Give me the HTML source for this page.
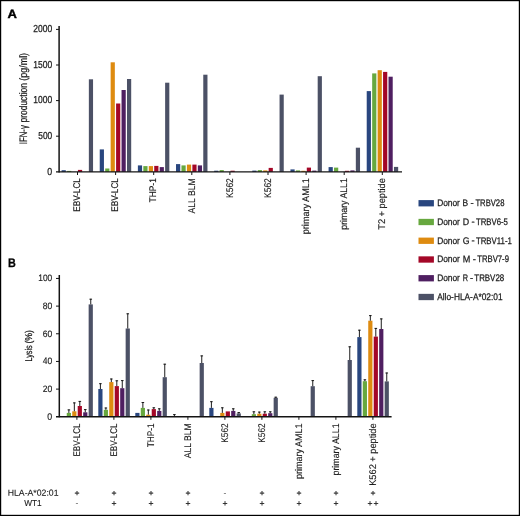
<!DOCTYPE html>
<html lang="en">
<head>
<meta charset="utf-8">
<title>Figure</title>
<style>
html,body{margin:0;padding:0;background:#fff;}
body{width:520px;height:516px;overflow:hidden;font-family:"Liberation Sans",sans-serif;}
svg{display:block;text-rendering:geometricPrecision;}
</style>
</head>
<body>
<svg width="520" height="516" viewBox="0 0 520 516">
<rect x="0" y="0" width="520" height="516" fill="#fff"/>
<g id="chartA">
<g class="bars">
<rect x="61.6" y="170.2" width="4.2" height="1.7" fill="#29467f"/>
<rect x="67.05" y="170.9" width="4.2" height="1" fill="#67a83f"/>
<rect x="77.95" y="169.9" width="4.2" height="2" fill="#a40727"/>
<rect x="88.85" y="79.3" width="4.2" height="92.6" fill="#4c5166"/>
<rect x="99.74" y="149.4" width="4.2" height="22.5" fill="#29467f"/>
<rect x="105.19" y="168.5" width="4.2" height="3.4" fill="#67a83f"/>
<rect x="110.64" y="62.3" width="4.2" height="109.6" fill="#de8b10"/>
<rect x="116.09" y="103.5" width="4.2" height="68.4" fill="#a40727"/>
<rect x="121.54" y="90" width="4.2" height="81.9" fill="#4f1f61"/>
<rect x="126.99" y="79" width="4.2" height="92.9" fill="#4c5166"/>
<rect x="137.88" y="165.4" width="4.2" height="6.5" fill="#29467f"/>
<rect x="143.33" y="166.1" width="4.2" height="5.8" fill="#67a83f"/>
<rect x="148.78" y="166.1" width="4.2" height="5.8" fill="#de8b10"/>
<rect x="154.23" y="165.9" width="4.2" height="6" fill="#a40727"/>
<rect x="159.68" y="167.1" width="4.2" height="4.8" fill="#4f1f61"/>
<rect x="165.13" y="82.7" width="4.2" height="89.2" fill="#4c5166"/>
<rect x="176.02" y="164.1" width="4.2" height="7.8" fill="#29467f"/>
<rect x="181.47" y="165.4" width="4.2" height="6.5" fill="#67a83f"/>
<rect x="186.92" y="164.6" width="4.2" height="7.3" fill="#de8b10"/>
<rect x="192.37" y="164.6" width="4.2" height="7.3" fill="#a40727"/>
<rect x="197.82" y="165.4" width="4.2" height="6.5" fill="#4f1f61"/>
<rect x="203.27" y="74.7" width="4.2" height="97.2" fill="#4c5166"/>
<rect x="214.16" y="170.7" width="4.2" height="1.2" fill="#29467f"/>
<rect x="219.61" y="170.1" width="4.2" height="1.8" fill="#67a83f"/>
<rect x="230.51" y="170.7" width="4.2" height="1.2" fill="#a40727"/>
<rect x="252.3" y="170.6" width="4.2" height="1.3" fill="#29467f"/>
<rect x="257.75" y="170.1" width="4.2" height="1.8" fill="#67a83f"/>
<rect x="263.2" y="170.4" width="4.2" height="1.5" fill="#de8b10"/>
<rect x="268.65" y="167.9" width="4.2" height="4" fill="#a40727"/>
<rect x="279.55" y="94.6" width="4.2" height="77.3" fill="#4c5166"/>
<rect x="290.44" y="169.4" width="4.2" height="2.5" fill="#29467f"/>
<rect x="295.89" y="170.4" width="4.2" height="1.5" fill="#67a83f"/>
<rect x="301.34" y="170.8" width="4.2" height="1.1" fill="#de8b10"/>
<rect x="306.79" y="167.6" width="4.2" height="4.3" fill="#a40727"/>
<rect x="312.24" y="170.6" width="4.2" height="1.3" fill="#4f1f61"/>
<rect x="317.69" y="76.2" width="4.2" height="95.7" fill="#4c5166"/>
<rect x="328.58" y="167.1" width="4.2" height="4.8" fill="#29467f"/>
<rect x="334.03" y="167.6" width="4.2" height="4.3" fill="#67a83f"/>
<rect x="344.93" y="170.8" width="4.2" height="1.1" fill="#a40727"/>
<rect x="350.38" y="170.4" width="4.2" height="1.5" fill="#4f1f61"/>
<rect x="355.83" y="147.7" width="4.2" height="24.2" fill="#4c5166"/>
<rect x="366.72" y="91.1" width="4.2" height="80.8" fill="#29467f"/>
<rect x="372.17" y="73.4" width="4.2" height="98.5" fill="#67a83f"/>
<rect x="377.62" y="70.2" width="4.2" height="101.7" fill="#de8b10"/>
<rect x="383.07" y="71.9" width="4.2" height="100" fill="#a40727"/>
<rect x="388.52" y="76.7" width="4.2" height="95.2" fill="#4f1f61"/>
<rect x="393.97" y="166.9" width="4.2" height="5" fill="#4c5166"/>
</g>
<g stroke="#141414" fill="none">
<path d="M59.1 26 V172.6" stroke-width="1.5"/>
<path d="M56 171.9 H402" stroke-width="1.4"/>
<path d="M56 136.2 H59.1" stroke-width="1"/>
<path d="M56 100.6 H59.1" stroke-width="1"/>
<path d="M56 65 H59.1" stroke-width="1"/>
<path d="M56 29.4 H59.1" stroke-width="1"/>
<path d="M77.5 171.9 V175" stroke-width="1"/>
<path d="M115.6 171.9 V175" stroke-width="1"/>
<path d="M153.7 171.9 V175" stroke-width="1"/>
<path d="M191.8 171.9 V175" stroke-width="1"/>
<path d="M229.9 171.9 V175" stroke-width="1"/>
<path d="M268 171.9 V175" stroke-width="1"/>
<path d="M306.1 171.9 V175" stroke-width="1"/>
<path d="M344.2 171.9 V175" stroke-width="1"/>
<path d="M382.3 171.9 V175" stroke-width="1"/>
</g>
<g font-family="'Liberation Sans', sans-serif" fill="#1a1a1a">
<text font-size="10.1" text-anchor="end" textLength="4.9" lengthAdjust="spacingAndGlyphs" stroke="#1a1a1a" stroke-width="0.25" transform="translate(52.2 174.65) rotate(0.03)">0</text>
<text font-size="10.1" text-anchor="end" textLength="13.9" lengthAdjust="spacingAndGlyphs" stroke="#1a1a1a" stroke-width="0.25" transform="translate(52.2 139.05) rotate(0.03)">500</text>
<text font-size="10.1" text-anchor="end" textLength="18.9" lengthAdjust="spacingAndGlyphs" stroke="#1a1a1a" stroke-width="0.25" transform="translate(52.2 103.45) rotate(0.03)">1000</text>
<text font-size="10.1" text-anchor="end" textLength="18.9" lengthAdjust="spacingAndGlyphs" stroke="#1a1a1a" stroke-width="0.25" transform="translate(52.2 67.85) rotate(0.03)">1500</text>
<text font-size="10.1" text-anchor="end" textLength="18.9" lengthAdjust="spacingAndGlyphs" stroke="#1a1a1a" stroke-width="0.25" transform="translate(52.2 32.25) rotate(0.03)">2000</text>
<text font-size="10.9" textLength="19.2" lengthAdjust="spacingAndGlyphs" stroke="#1a1a1a" stroke-width="0.2" transform="translate(27.3 144.3) rotate(-89.97)">IFN-γ</text>
<text font-size="10.9" textLength="39.3" lengthAdjust="spacingAndGlyphs" stroke="#1a1a1a" stroke-width="0.2" transform="translate(27.3 122.4) rotate(-89.97)">production</text>
<text font-size="10.9" textLength="27.8" lengthAdjust="spacingAndGlyphs" stroke="#1a1a1a" stroke-width="0.2" transform="translate(27.3 80.7) rotate(-89.97)">(pg/ml)</text>
<text font-size="9.7" text-anchor="end" textLength="33.5" lengthAdjust="spacingAndGlyphs" stroke="#1a1a1a" stroke-width="0.15" transform="translate(80.3 178.2) rotate(-89.97)">EBV-LCL</text>
<text font-size="9.7" text-anchor="end" textLength="33.5" lengthAdjust="spacingAndGlyphs" stroke="#1a1a1a" stroke-width="0.15" transform="translate(118.4 178.2) rotate(-89.97)">EBV-LCL</text>
<text font-size="9.7" text-anchor="end" textLength="24.2" lengthAdjust="spacingAndGlyphs" stroke="#1a1a1a" stroke-width="0.15" transform="translate(156.5 178.2) rotate(-89.97)">THP-1</text>
<text font-size="9.7" text-anchor="end" textLength="35.3" lengthAdjust="spacingAndGlyphs" stroke="#1a1a1a" stroke-width="0.15" transform="translate(194.6 178.2) rotate(-89.97)">ALL BLM</text>
<text font-size="9.7" text-anchor="end" textLength="19.7" lengthAdjust="spacingAndGlyphs" stroke="#1a1a1a" stroke-width="0.15" transform="translate(232.7 178.2) rotate(-89.97)">K562</text>
<text font-size="9.7" text-anchor="end" textLength="19.7" lengthAdjust="spacingAndGlyphs" stroke="#1a1a1a" stroke-width="0.15" transform="translate(270.8 178.2) rotate(-89.97)">K562</text>
<text font-size="9.7" text-anchor="end" textLength="56" lengthAdjust="spacingAndGlyphs" stroke="#1a1a1a" stroke-width="0.15" transform="translate(308.9 178.2) rotate(-89.97)">primary AML1</text>
<text font-size="9.7" text-anchor="end" textLength="51.5" lengthAdjust="spacingAndGlyphs" stroke="#1a1a1a" stroke-width="0.15" transform="translate(347 178.2) rotate(-89.97)">primary ALL1</text>
<text font-size="9.7" text-anchor="end" textLength="51.5" lengthAdjust="spacingAndGlyphs" stroke="#1a1a1a" stroke-width="0.15" transform="translate(385.1 178.2) rotate(-89.97)">T2 + peptide</text>
</g>
</g>
<g font-family="'Liberation Sans', sans-serif" fill="#000">
<text font-size="12" textLength="9.4" lengthAdjust="spacingAndGlyphs" font-weight="bold" stroke="#000" stroke-width="0.4" fill="#000" transform="translate(7.6 18.05) rotate(0.03)">A</text>
<text font-size="12.3" textLength="7.8" lengthAdjust="spacingAndGlyphs" font-weight="bold" stroke="#000" stroke-width="0.3" fill="#000" transform="translate(8.1 267.05) rotate(0.03)">B</text>
</g>
<g id="legend" font-family="'Liberation Sans', sans-serif" fill="#1a1a1a">
<rect x="418.5" y="200.1" width="15.4" height="6.3" fill="#29467f"/>
<text font-size="9.5" textLength="22.7" lengthAdjust="spacingAndGlyphs" stroke="#1a1a1a" stroke-width="0.25" transform="translate(437.2 206.1) rotate(0.03)">Donor</text>
<text font-size="9.5" textLength="5.6" lengthAdjust="spacingAndGlyphs" stroke="#1a1a1a" stroke-width="0.25" transform="translate(462.4 206.1) rotate(0.03)">B</text>
<text font-size="9.5" text-anchor="middle" stroke="#1a1a1a" stroke-width="0.25" transform="translate(472.15 206.1) rotate(0.03)">-</text>
<text font-size="9.5" textLength="29" lengthAdjust="spacingAndGlyphs" stroke="#1a1a1a" stroke-width="0.25" transform="translate(475.4 206.1) rotate(0.03)">TRBV28</text>
<rect x="418.5" y="218.85" width="15.4" height="6.3" fill="#67a83f"/>
<text font-size="9.5" textLength="22.7" lengthAdjust="spacingAndGlyphs" stroke="#1a1a1a" stroke-width="0.25" transform="translate(437.2 224.8) rotate(0.03)">Donor</text>
<text font-size="9.5" textLength="6.4" lengthAdjust="spacingAndGlyphs" stroke="#1a1a1a" stroke-width="0.25" transform="translate(462.7 224.8) rotate(0.03)">D</text>
<text font-size="9.5" text-anchor="middle" stroke="#1a1a1a" stroke-width="0.25" transform="translate(473.2 224.8) rotate(0.03)">-</text>
<text font-size="9.5" textLength="32" lengthAdjust="spacingAndGlyphs" stroke="#1a1a1a" stroke-width="0.25" transform="translate(475.9 224.8) rotate(0.03)">TRBV6-5</text>
<rect x="418.5" y="237.6" width="15.4" height="6.3" fill="#de8b10"/>
<text font-size="9.5" textLength="22.7" lengthAdjust="spacingAndGlyphs" stroke="#1a1a1a" stroke-width="0.25" transform="translate(437.2 243.5) rotate(0.03)">Donor</text>
<text font-size="9.5" textLength="6.8" lengthAdjust="spacingAndGlyphs" stroke="#1a1a1a" stroke-width="0.25" transform="translate(462.7 243.5) rotate(0.03)">G</text>
<text font-size="9.5" text-anchor="middle" stroke="#1a1a1a" stroke-width="0.25" transform="translate(473.2 243.5) rotate(0.03)">-</text>
<text font-size="9.5" textLength="36" lengthAdjust="spacingAndGlyphs" stroke="#1a1a1a" stroke-width="0.25" transform="translate(475.9 243.5) rotate(0.03)">TRBV11-1</text>
<rect x="418.5" y="256.35" width="15.4" height="6.3" fill="#a40727"/>
<text font-size="9.5" textLength="22.7" lengthAdjust="spacingAndGlyphs" stroke="#1a1a1a" stroke-width="0.25" transform="translate(437.2 262.2) rotate(0.03)">Donor</text>
<text font-size="9.5" textLength="7.6" lengthAdjust="spacingAndGlyphs" stroke="#1a1a1a" stroke-width="0.25" transform="translate(462.7 262.2) rotate(0.03)">M</text>
<text font-size="9.5" text-anchor="middle" stroke="#1a1a1a" stroke-width="0.25" transform="translate(474.35 262.2) rotate(0.03)">-</text>
<text font-size="9.5" textLength="31.8" lengthAdjust="spacingAndGlyphs" stroke="#1a1a1a" stroke-width="0.25" transform="translate(477.2 262.2) rotate(0.03)">TRBV7-9</text>
<rect x="418.5" y="275.1" width="15.4" height="6.3" fill="#4f1f61"/>
<text font-size="9.5" textLength="22.7" lengthAdjust="spacingAndGlyphs" stroke="#1a1a1a" stroke-width="0.25" transform="translate(437.2 280.9) rotate(0.03)">Donor</text>
<text font-size="9.5" textLength="5.3" lengthAdjust="spacingAndGlyphs" stroke="#1a1a1a" stroke-width="0.25" transform="translate(462.7 280.9) rotate(0.03)">R</text>
<text font-size="9.5" text-anchor="middle" stroke="#1a1a1a" stroke-width="0.25" transform="translate(471.6 280.9) rotate(0.03)">-</text>
<text font-size="9.5" textLength="29.9" lengthAdjust="spacingAndGlyphs" stroke="#1a1a1a" stroke-width="0.25" transform="translate(474.3 280.9) rotate(0.03)">TRBV28</text>
<rect x="418.5" y="293.85" width="15.4" height="6.3" fill="#4c5166"/>
<text font-size="9.5" textLength="65.4" lengthAdjust="spacingAndGlyphs" stroke="#1a1a1a" stroke-width="0.25" transform="translate(437.2 299.6) rotate(0.03)">Allo-HLA-A*02:01</text>
</g>
<g id="chartB">
<g class="bars">
<rect x="66.77" y="412.9" width="4.2" height="3.7" fill="#67a83f"/>
<rect x="72.24" y="411.3" width="4.2" height="5.3" fill="#de8b10"/>
<rect x="77.71" y="406" width="4.2" height="10.6" fill="#a40727"/>
<rect x="83.18" y="412.3" width="4.2" height="4.3" fill="#4f1f61"/>
<rect x="88.65" y="304.4" width="4.2" height="112.2" fill="#4c5166"/>
<rect x="98.3" y="389" width="4.2" height="27.6" fill="#29467f"/>
<rect x="103.77" y="409.8" width="4.2" height="6.8" fill="#67a83f"/>
<rect x="109.24" y="382.1" width="4.2" height="34.5" fill="#de8b10"/>
<rect x="114.71" y="386.1" width="4.2" height="30.5" fill="#a40727"/>
<rect x="120.18" y="388.2" width="4.2" height="28.4" fill="#4f1f61"/>
<rect x="125.65" y="328.5" width="4.2" height="88.1" fill="#4c5166"/>
<rect x="135.3" y="412.9" width="4.2" height="3.7" fill="#29467f"/>
<rect x="140.77" y="407.9" width="4.2" height="8.7" fill="#67a83f"/>
<rect x="146.24" y="414.7" width="4.2" height="1.9" fill="#de8b10"/>
<rect x="151.71" y="409.1" width="4.2" height="7.5" fill="#a40727"/>
<rect x="157.18" y="410.9" width="4.2" height="5.7" fill="#4f1f61"/>
<rect x="162.65" y="377.2" width="4.2" height="39.4" fill="#4c5166"/>
<rect x="199.65" y="363" width="4.2" height="53.6" fill="#4c5166"/>
<rect x="209.3" y="407.9" width="4.2" height="8.7" fill="#29467f"/>
<rect x="220.24" y="412.9" width="4.2" height="3.7" fill="#de8b10"/>
<rect x="225.71" y="411.4" width="4.2" height="5.2" fill="#a40727"/>
<rect x="231.18" y="410.9" width="4.2" height="5.7" fill="#4f1f61"/>
<rect x="236.65" y="413.4" width="4.2" height="3.2" fill="#4c5166"/>
<rect x="251.77" y="414.2" width="4.2" height="2.4" fill="#67a83f"/>
<rect x="257.24" y="413.7" width="4.2" height="2.9" fill="#de8b10"/>
<rect x="262.71" y="413.7" width="4.2" height="2.9" fill="#a40727"/>
<rect x="268.18" y="413.2" width="4.2" height="3.4" fill="#4f1f61"/>
<rect x="273.65" y="397.8" width="4.2" height="18.8" fill="#4c5166"/>
<rect x="310.65" y="386.2" width="4.2" height="30.4" fill="#4c5166"/>
<rect x="347.65" y="360" width="4.2" height="56.6" fill="#4c5166"/>
<rect x="357.3" y="337.1" width="4.2" height="79.5" fill="#29467f"/>
<rect x="362.77" y="381.2" width="4.2" height="35.4" fill="#67a83f"/>
<rect x="368.24" y="320.7" width="4.2" height="95.9" fill="#de8b10"/>
<rect x="373.71" y="336.6" width="4.2" height="80" fill="#a40727"/>
<rect x="379.18" y="329" width="4.2" height="87.6" fill="#4f1f61"/>
<rect x="384.65" y="381.4" width="4.2" height="35.2" fill="#4c5166"/>
</g>
<path d="M68.87 412.9 V409.5 M67.57 409.9 H70.17 M74.34 411.3 V402.5 M73.04 402.9 H75.64 M79.81 406 V401 M78.51 401.4 H81.11 M85.28 412.3 V409.2 M83.98 409.6 H86.58 M90.75 304.4 V298.8 M89.45 299.2 H92.05 M100.4 389 V383.3 M99.1 383.7 H101.7 M105.87 409.8 V407.6 M104.57 408 H107.17 M111.34 382.1 V378.6 M110.04 379 H112.64 M116.81 386.1 V380.4 M115.51 380.8 H118.11 M122.28 388.2 V380.2 M120.98 380.6 H123.58 M127.75 328.5 V313.4 M126.45 313.8 H129.05 M142.87 407.9 V402.1 M141.57 402.5 H144.17 M148.34 414.7 V409.6 M147.04 410 H149.64 M153.81 409.1 V407.4 M152.51 407.8 H155.11 M159.28 410.9 V408.4 M157.98 408.8 H160.58 M164.75 377.2 V363.8 M163.45 364.2 H166.05 M174.4 416.6 V414.2 M173.1 414.6 H175.7 M201.75 363 V355.5 M200.45 355.9 H203.05 M211.4 407.9 V401.3 M210.1 401.7 H212.7 M222.34 412.9 V407.4 M221.04 407.8 H223.64 M233.28 410.9 V408.4 M231.98 408.8 H234.58 M238.75 413.4 V412.2 M237.45 412.6 H240.05 M253.87 414.2 V411.4 M252.57 411.8 H255.17 M259.34 413.7 V411.7 M258.04 412.1 H260.64 M264.81 413.7 V411.4 M263.51 411.8 H266.11 M270.28 413.2 V411.4 M268.98 411.8 H271.58 M275.75 397.8 V396.8 M274.45 397.2 H277.05 M312.75 386.2 V380.2 M311.45 380.6 H314.05 M349.75 360 V346.4 M348.45 346.8 H351.05 M359.4 337.1 V329.8 M358.1 330.2 H360.7 M364.87 381.2 V379.4 M363.57 379.8 H366.17 M370.34 320.7 V315.2 M369.04 315.6 H371.64 M375.81 336.6 V328 M374.51 328.4 H377.11 M381.28 329 V318.5 M379.98 318.9 H382.58 M386.75 381.4 V372.6 M385.45 373 H388.05" stroke="#111" stroke-width="0.95" fill="none"/>
<g stroke="#141414" fill="none">
<path d="M59.3 275 V417.3" stroke-width="1.5"/>
<path d="M56 416.75 H391.6" stroke-width="1.4"/>
<path d="M56 389.11 H59.3" stroke-width="1"/>
<path d="M56 361.45 H59.3" stroke-width="1"/>
<path d="M56 333.78 H59.3" stroke-width="1"/>
<path d="M56 306.12 H59.3" stroke-width="1"/>
<path d="M56 278.45 H59.3" stroke-width="1"/>
<path d="M76.9 416.6 V419.8" stroke-width="1"/>
<path d="M113.9 416.6 V419.8" stroke-width="1"/>
<path d="M150.9 416.6 V419.8" stroke-width="1"/>
<path d="M187.9 416.6 V419.8" stroke-width="1"/>
<path d="M224.9 416.6 V419.8" stroke-width="1"/>
<path d="M261.9 416.6 V419.8" stroke-width="1"/>
<path d="M298.9 416.6 V419.8" stroke-width="1"/>
<path d="M335.9 416.6 V419.8" stroke-width="1"/>
<path d="M372.9 416.6 V419.8" stroke-width="1"/>
</g>
<g font-family="'Liberation Sans', sans-serif" fill="#1a1a1a">
<text font-size="9.3" text-anchor="end" textLength="4.9" lengthAdjust="spacingAndGlyphs" stroke="#1a1a1a" stroke-width="0.15" transform="translate(52.2 419.78) rotate(0.03)">0</text>
<text font-size="9.3" text-anchor="end" textLength="9.5" lengthAdjust="spacingAndGlyphs" stroke="#1a1a1a" stroke-width="0.15" transform="translate(52.2 392.11) rotate(0.03)">20</text>
<text font-size="9.3" text-anchor="end" textLength="9.5" lengthAdjust="spacingAndGlyphs" stroke="#1a1a1a" stroke-width="0.15" transform="translate(52.2 364.45) rotate(0.03)">40</text>
<text font-size="9.3" text-anchor="end" textLength="9.5" lengthAdjust="spacingAndGlyphs" stroke="#1a1a1a" stroke-width="0.15" transform="translate(52.2 336.78) rotate(0.03)">60</text>
<text font-size="9.3" text-anchor="end" textLength="9.5" lengthAdjust="spacingAndGlyphs" stroke="#1a1a1a" stroke-width="0.15" transform="translate(52.2 309.12) rotate(0.03)">80</text>
<text font-size="9.3" text-anchor="end" textLength="13.9" lengthAdjust="spacingAndGlyphs" stroke="#1a1a1a" stroke-width="0.15" transform="translate(52.2 281.45) rotate(0.03)">100</text>
<text font-size="9.8" textLength="16.3" lengthAdjust="spacingAndGlyphs" stroke="#1a1a1a" stroke-width="0.25" transform="translate(32 361.6) rotate(-89.97)">Lysis</text>
<text font-size="9.8" textLength="13.6" lengthAdjust="spacingAndGlyphs" stroke="#1a1a1a" stroke-width="0.25" transform="translate(32 343.6) rotate(-89.97)">(%)</text>
<text font-size="9.7" text-anchor="end" textLength="33.1" lengthAdjust="spacingAndGlyphs" stroke="#1a1a1a" stroke-width="0.12" transform="translate(80 423.4) rotate(-89.97)">EBV-LCL</text>
<text font-size="9.7" text-anchor="end" textLength="33.1" lengthAdjust="spacingAndGlyphs" stroke="#1a1a1a" stroke-width="0.12" transform="translate(117 423.4) rotate(-89.97)">EBV-LCL</text>
<text font-size="9.7" text-anchor="end" textLength="23.8" lengthAdjust="spacingAndGlyphs" stroke="#1a1a1a" stroke-width="0.12" transform="translate(154 423.4) rotate(-89.97)">THP-1</text>
<text font-size="9.7" text-anchor="end" textLength="34.9" lengthAdjust="spacingAndGlyphs" stroke="#1a1a1a" stroke-width="0.12" transform="translate(191 423.4) rotate(-89.97)">ALL BLM</text>
<text font-size="9.7" text-anchor="end" textLength="19.3" lengthAdjust="spacingAndGlyphs" stroke="#1a1a1a" stroke-width="0.12" transform="translate(228 423.4) rotate(-89.97)">K562</text>
<text font-size="9.7" text-anchor="end" textLength="19.3" lengthAdjust="spacingAndGlyphs" stroke="#1a1a1a" stroke-width="0.12" transform="translate(265 423.4) rotate(-89.97)">K562</text>
<text font-size="9.7" text-anchor="end" textLength="55.6" lengthAdjust="spacingAndGlyphs" stroke="#1a1a1a" stroke-width="0.12" transform="translate(302 423.4) rotate(-89.97)">primary AML1</text>
<text font-size="9.7" text-anchor="end" textLength="52.1" lengthAdjust="spacingAndGlyphs" stroke="#1a1a1a" stroke-width="0.12" transform="translate(339 423.4) rotate(-89.97)">primary ALL1</text>
<text font-size="9.7" text-anchor="end" textLength="62.4" lengthAdjust="spacingAndGlyphs" stroke="#1a1a1a" stroke-width="0.12" transform="translate(376 423.4) rotate(-89.97)">K562 + peptide</text>
<text font-size="8.8" text-anchor="middle" textLength="50.8" lengthAdjust="spacingAndGlyphs" stroke="#1a1a1a" stroke-width="0.12" transform="translate(33.1 495.8) rotate(0.03)">HLA-A*02:01</text>
<text font-size="8.8" text-anchor="middle" textLength="17.5" lengthAdjust="spacingAndGlyphs" stroke="#1a1a1a" stroke-width="0.12" transform="translate(32.9 506) rotate(0.03)">WT1</text>
<text font-size="8.6" text-anchor="middle" stroke="#1a1a1a" stroke-width="0.2" transform="translate(77 496.05) rotate(0.03)">+</text>
<text font-size="8.6" text-anchor="middle" transform="translate(77 505.85) rotate(0.03)">-</text>
<text font-size="8.6" text-anchor="middle" stroke="#1a1a1a" stroke-width="0.2" transform="translate(114 496.05) rotate(0.03)">+</text>
<text font-size="8.6" text-anchor="middle" stroke="#1a1a1a" stroke-width="0.2" transform="translate(114 506.3) rotate(0.03)">+</text>
<text font-size="8.6" text-anchor="middle" stroke="#1a1a1a" stroke-width="0.2" transform="translate(151 496.05) rotate(0.03)">+</text>
<text font-size="8.6" text-anchor="middle" stroke="#1a1a1a" stroke-width="0.2" transform="translate(151 506.3) rotate(0.03)">+</text>
<text font-size="8.6" text-anchor="middle" stroke="#1a1a1a" stroke-width="0.2" transform="translate(188 496.05) rotate(0.03)">+</text>
<text font-size="8.6" text-anchor="middle" stroke="#1a1a1a" stroke-width="0.2" transform="translate(188 506.3) rotate(0.03)">+</text>
<text font-size="8.6" text-anchor="middle" transform="translate(225 495.6) rotate(0.03)">-</text>
<text font-size="8.6" text-anchor="middle" stroke="#1a1a1a" stroke-width="0.2" transform="translate(225 506.3) rotate(0.03)">+</text>
<text font-size="8.6" text-anchor="middle" stroke="#1a1a1a" stroke-width="0.2" transform="translate(262 496.05) rotate(0.03)">+</text>
<text font-size="8.6" text-anchor="middle" stroke="#1a1a1a" stroke-width="0.2" transform="translate(262 506.3) rotate(0.03)">+</text>
<text font-size="8.6" text-anchor="middle" stroke="#1a1a1a" stroke-width="0.2" transform="translate(299 496.05) rotate(0.03)">+</text>
<text font-size="8.6" text-anchor="middle" stroke="#1a1a1a" stroke-width="0.2" transform="translate(299 506.3) rotate(0.03)">+</text>
<text font-size="8.6" text-anchor="middle" stroke="#1a1a1a" stroke-width="0.2" transform="translate(336 496.05) rotate(0.03)">+</text>
<text font-size="8.6" text-anchor="middle" stroke="#1a1a1a" stroke-width="0.2" transform="translate(336 506.3) rotate(0.03)">+</text>
<text font-size="8.6" text-anchor="middle" stroke="#1a1a1a" stroke-width="0.2" transform="translate(373 496.05) rotate(0.03)">+</text>
<text font-size="8.6" text-anchor="middle" stroke="#1a1a1a" stroke-width="0.2" transform="translate(373 506.3) rotate(0.03)" letter-spacing="0.9" dx="0.45">++</text>
</g>
</g>
<rect x="0.6" y="0.6" width="518.8" height="514.8" fill="none" stroke="#000" stroke-width="1.2"/>
</svg>
</body>
</html>
